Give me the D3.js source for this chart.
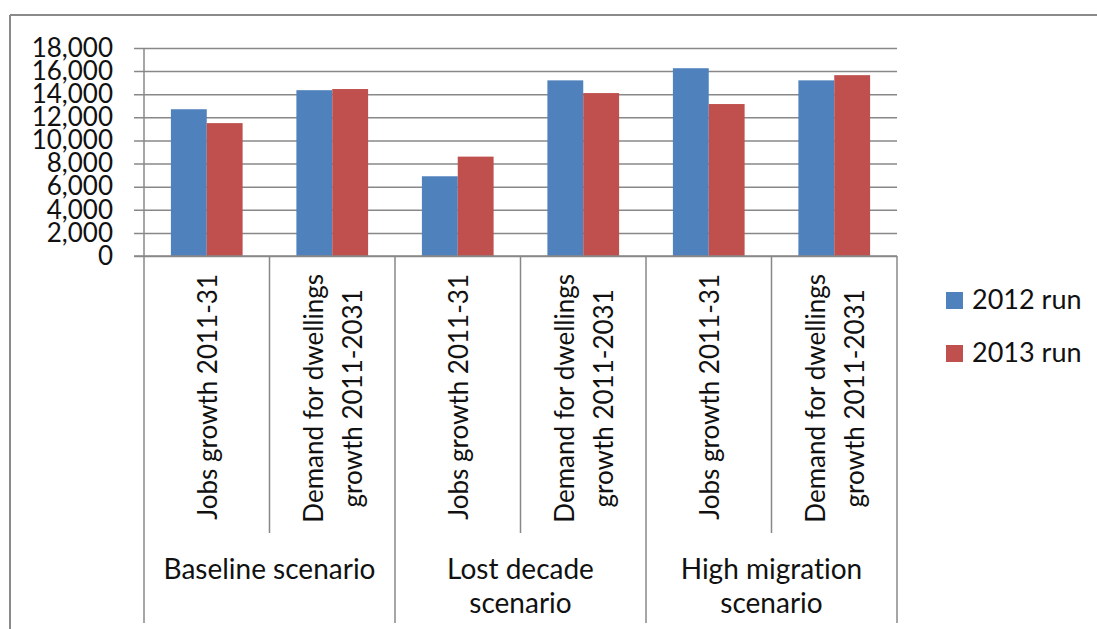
<!DOCTYPE html>
<meta charset="utf-8" />
<script src="https://d3js.org/d3.v7.min.js"></script>
<style>
	body { margin: 0; background: #fff; }
	text { font-family: Lato, 'Open Sans', sans-serif; fill: #111; font-variant-ligatures: none; }
</style>
<div id="chart"></div>
<script>
	// data
	var measures = [['Jobs growth 2011-31'], ['Demand for dwellings', 'growth 2011-2031']];
	var groupLabels = [['Baseline scenario'], ['Lost decade', 'scenario'], ['High migration', 'scenario']];
	var series = ['2012 run', '2013 run'];
	var run2012 = [12700, 14350, 6900, 15200, 16250, 15200];
	var run2013 = [11500, 14450, 8600, 14100, 13150, 15650];
	var yTicks = [0, 2000, 4000, 6000, 8000, 10000, 12000, 14000, 16000, 18000];
	var colors = ['#4f81bd', '#c0504d'];

	var width = 1097, height = 629;
	var plotLeft = 144, plotRight = 897, plotTop = 48, plotBottom = 256;

	var svg = d3.select('#chart').append('svg')
		.attr('width', width)
		.attr('height', height);

	// outer chart border (only top and left show)
	svg.append('line').attr('x1', 10).attr('x2', width).attr('y1', 15).attr('y2', 15)
		.attr('stroke', '#8a8a8a').attr('stroke-width', 2);
	svg.append('line').attr('x1', 10).attr('x2', 10).attr('y1', 15).attr('y2', height)
		.attr('stroke', '#8a8a8a').attr('stroke-width', 2);

	var cats = d3.range(6);
	var x = d3.scaleBand().domain(cats).range([plotLeft, plotRight]).padding(0);
	var xs = d3.scaleBand().domain(series).range([0, x.bandwidth()]).paddingInner(0).paddingOuter(0.75);
	var y = d3.scaleLinear().domain([0, 18000]).range([plotBottom, plotTop]);

	// Y axis with gridlines
	var yAxis = svg.append('g')
		.attr('transform', 'translate(' + plotLeft + ',0)')
		.call(d3.axisLeft(y).tickValues(yTicks).tickFormat(d3.format(',')).tickSizeOuter(0).tickPadding(25));
	yAxis.select('.domain').remove();
	yAxis.selectAll('.tick line')
		.attr('x1', -10).attr('x2', plotRight - plotLeft)
		.attr('stroke', '#888').attr('stroke-width', 1.5);
	yAxis.selectAll('.tick text')
		.style('font-size', '26px').attr('fill', '#111');

	// bars
	var rows = cats.map(function (i) { return [run2012[i], run2013[i]]; });
	svg.append('g').selectAll('g')
		.data(rows)
		.enter().append('g')
		.attr('transform', function (d, i) { return 'translate(' + x(i) + ',0)'; })
		.selectAll('rect')
		.data(function (d) { return d; })
		.enter().append('rect')
		.attr('x', function (d, j) { return xs(series[j]); })
		.attr('width', xs.bandwidth())
		.attr('y', function (d) { return y(d); })
		.attr('height', function (d) { return y(0) - y(d); })
		.attr('fill', function (d, j) { return colors[j]; });

	// category axis lines
	var ax = svg.append('g').attr('stroke', '#888').attr('stroke-width', 1.5);
	ax.append('line').attr('x1', plotLeft - 10).attr('x2', plotRight).attr('y1', y(0)).attr('y2', y(0));
	ax.append('line').attr('x1', plotLeft).attr('x2', plotLeft).attr('y1', plotTop).attr('y2', y(0));
	cats.concat([6]).forEach(function (i) {
		var xx = i < 6 ? x(i) : plotRight;
		ax.append('line').attr('x1', xx).attr('x2', xx)
			.attr('y1', y(0)).attr('y2', i % 2 === 0 ? 623 : 533);
	});

	// rotated measure labels
	var tmp = svg.append('text').style('font-size', '26px');
	cats.forEach(function (i) {
		var lines = measures[i % 2];
		var longest = d3.max(lines, function (l) { tmp.text(l); return tmp.node().getComputedTextLength(); });
		var cy = 274 + longest / 2;
		var cx = x(i) + x.bandwidth() / 2 + 10;
		var t = svg.append('text')
			.attr('transform', 'translate(' + cx + ',' + cy + ') rotate(-90)')
			.attr('text-anchor', 'middle')
			.style('font-size', '26px');
		lines.forEach(function (l, k) {
			t.append('tspan').attr('x', 0).attr('y', (k - (lines.length - 1) / 2) * 39).text(l);
		});
	});
	tmp.remove();

	// group labels
	groupLabels.forEach(function (lines, g) {
		var cx = (x(g * 2) + x(g * 2 + 1) + x.bandwidth()) / 2;
		var t = svg.append('text').attr('text-anchor', 'middle').style('font-size', '28px');
		lines.forEach(function (l, k) {
			t.append('tspan').attr('x', cx).attr('y', 579 + k * 34).text(l);
		});
	});

	// legend
	var legend = svg.append('g').selectAll('g')
		.data(series)
		.enter().append('g')
		.attr('transform', function (d, i) { return 'translate(946,' + (292 + i * 53) + ')'; });
	legend.append('rect').attr('width', 17).attr('height', 17)
		.attr('fill', function (d, i) { return colors[i]; });
	legend.append('text').attr('x', 26).attr('y', 16.5)
		.style('font-size', '27px').text(function (d) { return d; });
</script>
